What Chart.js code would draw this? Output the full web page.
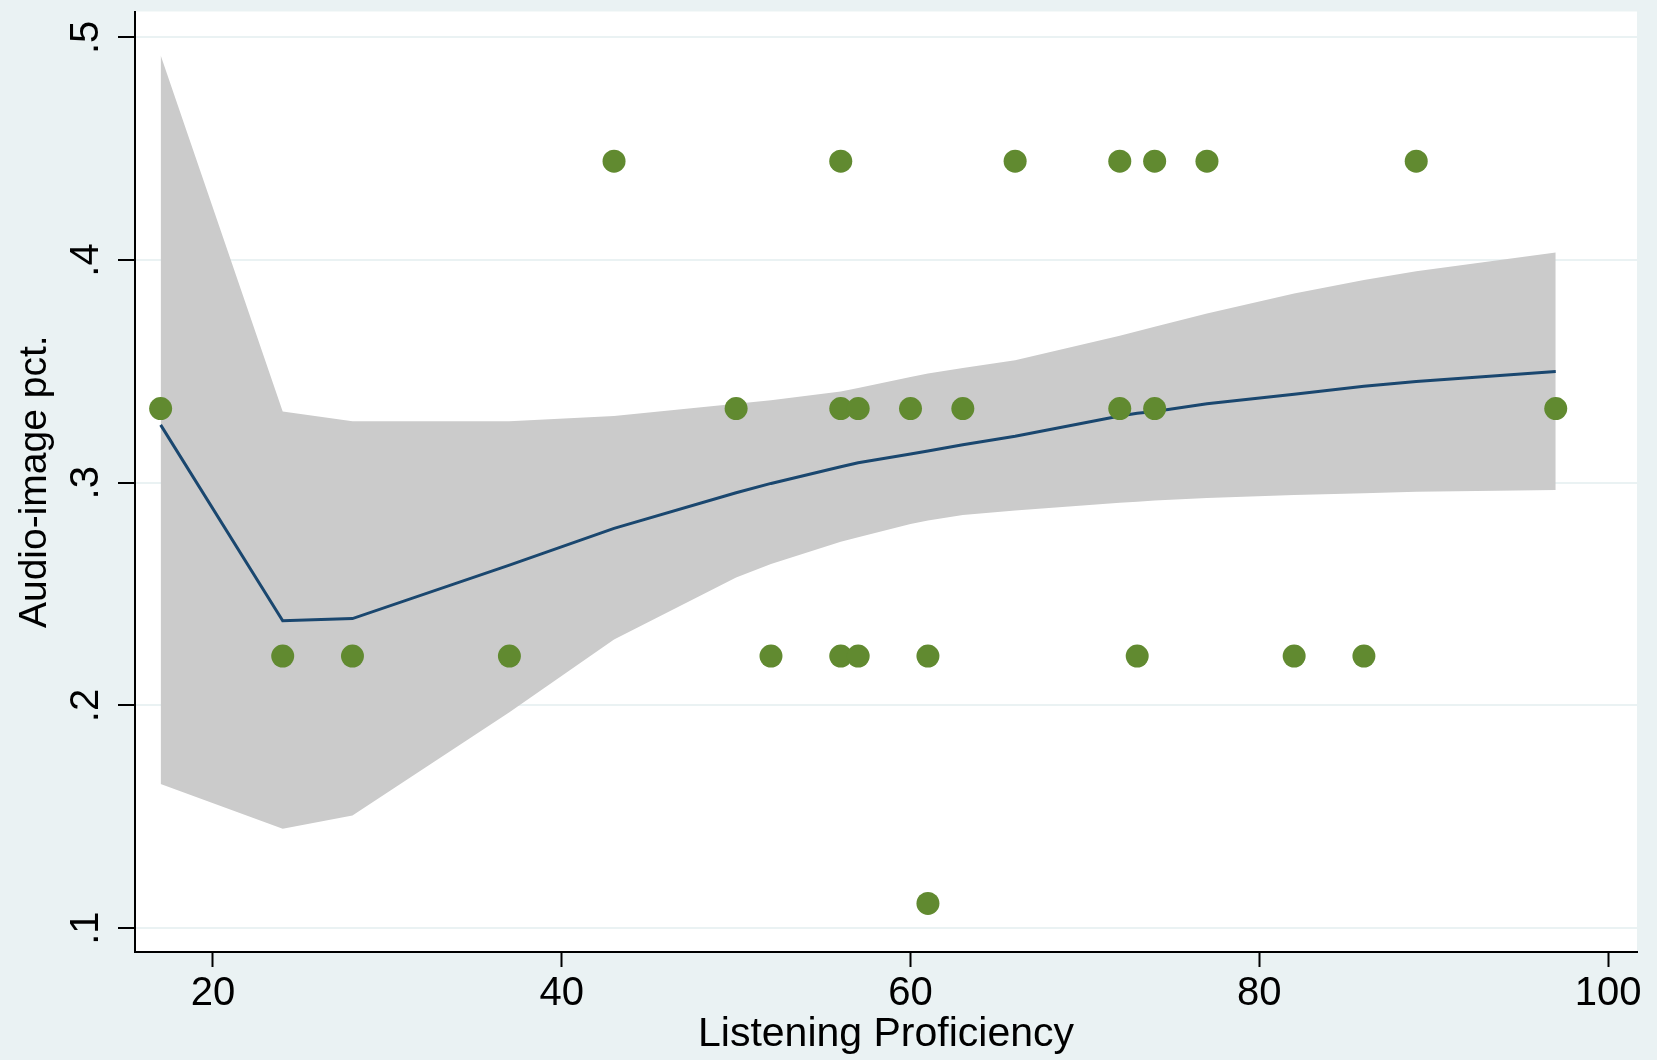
<!DOCTYPE html>
<html>
<head>
<meta charset="utf-8">
<script src="https://cdn.jsdelivr.net/npm/chart.js@4/dist/chart.umd.min.js"></script>
<style>
  html, body { margin: 0; padding: 0; background: #EAF2F3; }
  #wrap { width: 1657px; height: 1060px; position: relative; }
</style>
</head>
<body>
<div id="wrap"><canvas id="c" width="1657" height="1060"></canvas></div>
<script>
// Observed scores: listening proficiency vs. share of audio-image items
const obsX = [43, 56, 66, 72, 74, 77, 89,
              17, 50, 56, 57, 60, 63, 72, 74, 97,
              24, 28, 37, 52, 56, 57, 61, 73, 82, 86,
              61];
const obsY = [0.4444, 0.4444, 0.4444, 0.4444, 0.4444, 0.4444, 0.4444,
              0.3333, 0.3333, 0.3333, 0.3333, 0.3333, 0.3333, 0.3333, 0.3333, 0.3333,
              0.2222, 0.2222, 0.2222, 0.2222, 0.2222, 0.2222, 0.2222, 0.2222, 0.2222, 0.2222,
              0.1111];

// Fitted curve with its 95% confidence band, evaluated at the observed x values
const fitX    = [17, 24, 28, 37, 43, 50, 52, 56, 57, 60, 61, 63, 66, 72, 73, 74, 77, 82, 86, 89, 97];
const fitY    = [0.326, 0.238, 0.239, 0.263, 0.2795, 0.2955, 0.2997, 0.3072, 0.309, 0.3129, 0.3143,
                 0.3171, 0.3209, 0.330, 0.3312, 0.332, 0.3355, 0.3397, 0.3433, 0.3455, 0.350];
const ciUpper = [0.492, 0.332, 0.3276, 0.3276, 0.330, 0.3355, 0.337, 0.341, 0.3425, 0.3475, 0.349,
                 0.3515, 0.355, 0.366, 0.368, 0.370, 0.376, 0.385, 0.391, 0.395, 0.4034];
const ciLower = [0.1647, 0.1446, 0.1506, 0.197, 0.2296, 0.2575, 0.2635, 0.2735, 0.2755, 0.2815, 0.283,
                 0.2855, 0.2875, 0.291, 0.2915, 0.292, 0.2932, 0.2945, 0.2953, 0.296, 0.2967];

const xTicks = [20, 40, 60, 80, 100];
const xTickLabels = ['20', '40', '60', '80', '100'];
const yTicks = [0.1, 0.2, 0.3, 0.4, 0.5];
const yTickLabels = ['.1', '.2', '.3', '.4', '.5'];

const xTitle = 'Listening Proficiency';
const yTitle = 'Audio-image pct.';

const FONT = 'Liberation Sans, Arial, Helvetica, sans-serif';
const BG = '#EAF2F3';

const toPts = (xs, ys) => xs.map((x, i) => ({ x: x, y: ys[i] }));

// Paint the outer background and the white plot region
const backdrop = {
  id: 'backdrop',
  beforeDraw(chart) {
    const { ctx, chartArea: a } = chart;
    ctx.save();
    ctx.fillStyle = BG;
    ctx.fillRect(0, 0, chart.width, chart.height);
    ctx.fillStyle = '#FFFFFF';
    ctx.fillRect(a.left, a.top, a.right - a.left, a.bottom - a.top);
    ctx.restore();
  }
};

// Vertical-axis labels are set sideways, reading bottom to top
const sideLabels = {
  id: 'sideLabels',
  afterDraw(chart) {
    const { ctx } = chart;
    const y = chart.scales.y;
    ctx.save();
    ctx.fillStyle = '#000';
    ctx.font = '40px ' + FONT;
    ctx.textAlign = 'center';
    ctx.textBaseline = 'alphabetic';
    yTicks.forEach((v, i) => {
      const py = y.getPixelForValue(v);
      ctx.save();
      ctx.translate(98, py);
      ctx.rotate(-Math.PI / 2);
      ctx.fillText(yTickLabels[i], 0, 0);
      ctx.restore();
    });
    ctx.restore();
  }
};

new Chart(document.getElementById('c'), {
  type: 'line',
  data: {
    datasets: [
      {
        label: 'lower',
        data: toPts(fitX, ciLower),
        borderWidth: 0,
        pointRadius: 0,
        fill: false,
        order: 3
      },
      {
        label: '95% CI',
        data: toPts(fitX, ciUpper),
        borderWidth: 0,
        pointRadius: 0,
        backgroundColor: '#CBCBCB',
        fill: '-1',
        order: 2
      },
      {
        label: 'Fitted values',
        data: toPts(fitX, fitY),
        borderColor: '#1A476F',
        borderWidth: 3,
        pointRadius: 0,
        fill: false,
        tension: 0,
        order: 1
      },
      {
        type: 'scatter',
        label: 'Audio-image pct.',
        data: toPts(obsX, obsY),
        backgroundColor: '#618A30',
        borderWidth: 0,
        pointRadius: 11.5,
        order: 0
      }
    ]
  },
  options: {
    responsive: false,
    animation: false,
    devicePixelRatio: 1,
    layout: { padding: { top: 8, right: 20, left: 0, bottom: 0 } },
    plugins: { legend: { display: false }, tooltip: { enabled: false } },
    scales: {
      x: {
        type: 'linear',
        min: 15.53,
        max: 101.66,
        afterBuildTicks: s => { s.ticks = xTicks.map(v => ({ value: v })); },
        afterFit: s => { s.height = 108; },
        grid: { drawOnChartArea: false, tickLength: 15, tickColor: '#000', tickWidth: 2 },
        border: { color: '#000', width: 2 },
        ticks: {
          color: '#000',
          font: { family: FONT, size: 40 },
          padding: 3,
          maxRotation: 0,
          autoSkip: false,
          callback: (v) => xTickLabels[xTicks.indexOf(v)]
        },
        title: {
          display: true,
          text: xTitle,
          color: '#000',
          font: { family: FONT, size: 41 },
          padding: { top: 0, bottom: 1 }
        }
      },
      y: {
        type: 'linear',
        min: 0.0893,
        max: 0.5116,
        afterBuildTicks: s => { s.ticks = yTicks.map(v => ({ value: v })); },
        afterFit: s => { s.width = 135; },
        grid: { color: BG, lineWidth: 2, tickLength: 17, tickColor: '#000', tickWidth: 2 },
        border: { color: '#000', width: 2 },
        ticks: { display: false },
        title: {
          display: true,
          text: yTitle,
          color: '#000',
          font: { family: FONT, size: 39 },
          padding: { top: 12, bottom: 0 }
        }
      }
    }
  },
  plugins: [backdrop, sideLabels]
});
</script>
</body>
</html>
